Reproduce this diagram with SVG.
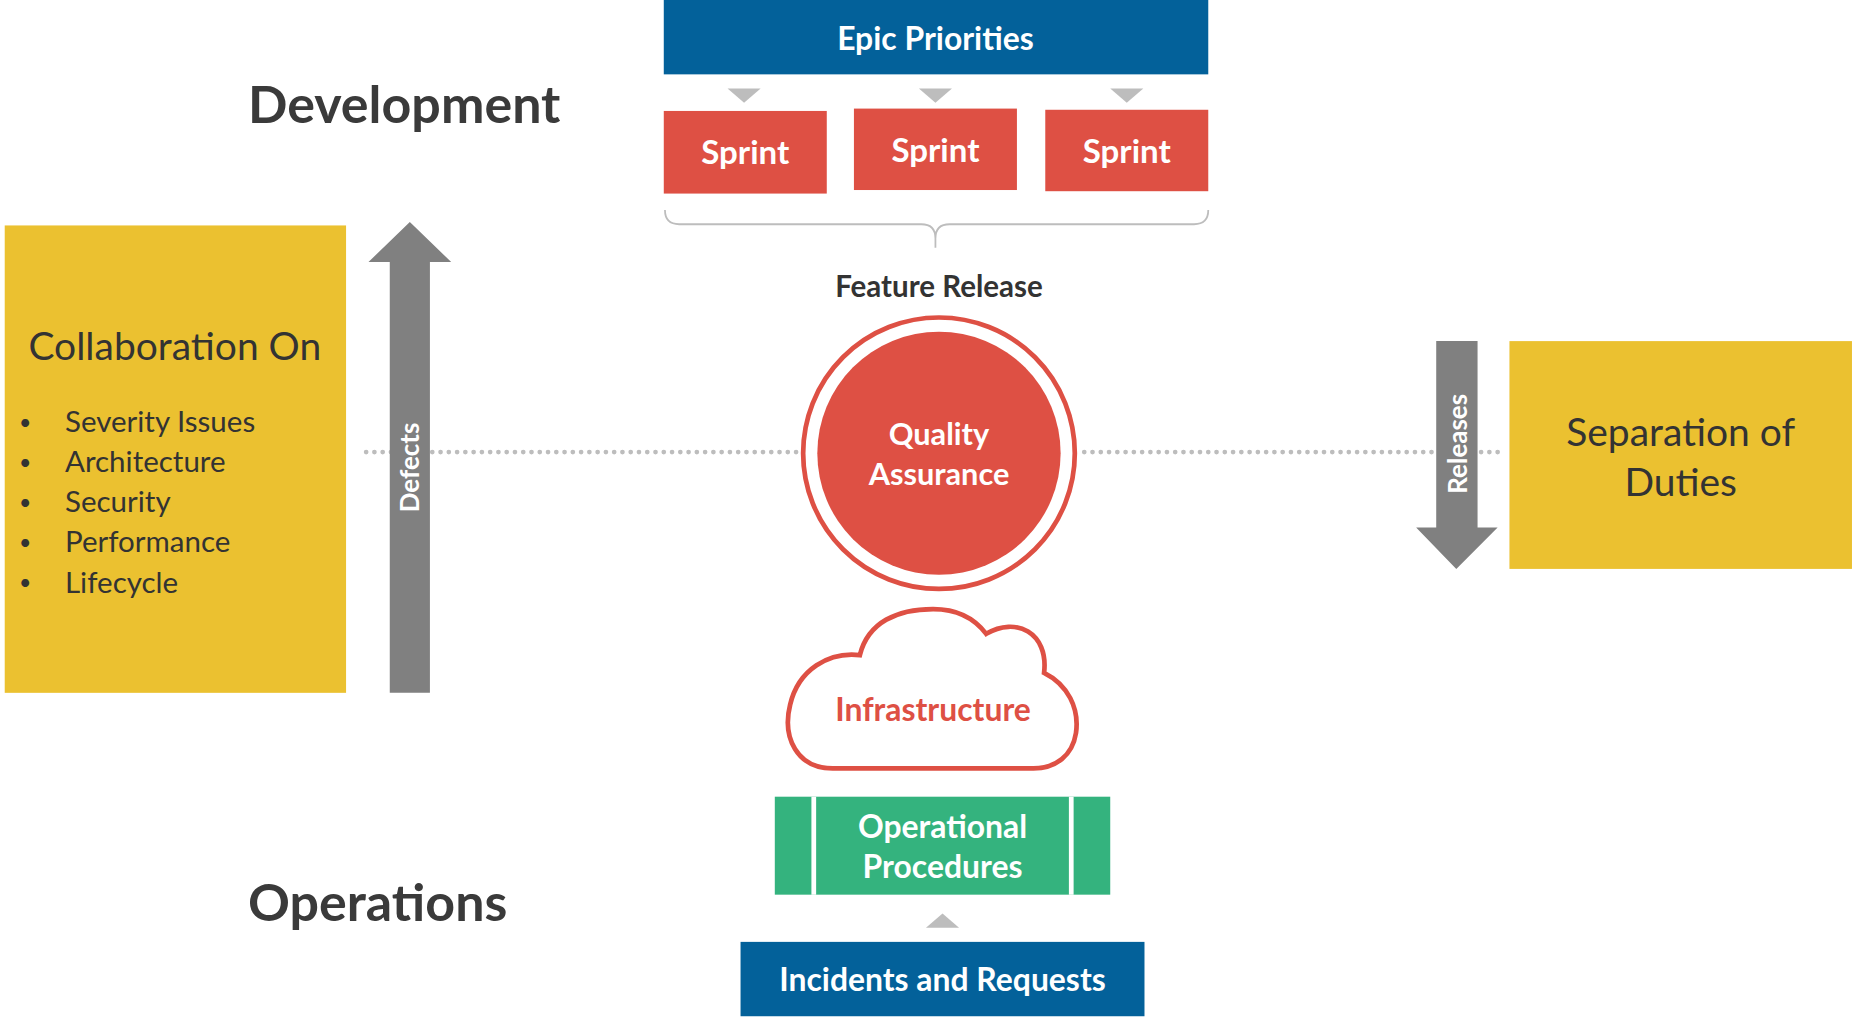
<svg xmlns="http://www.w3.org/2000/svg" width="1852" height="1021" viewBox="0 0 1852 1021">
<style>
text{font-family:Lato,"Open Sans","Liberation Sans",sans-serif}
.w{fill:#fff;font-weight:bold;text-anchor:middle}
.h{fill:#3a3a3a;font-weight:bold;font-size:44px}
.d{fill:#333;font-size:25px}
.b{fill:#333;font-size:18px}
.tri{fill:#bdbdbd}
.red{fill:#de5044}
.blue{fill:#03619a}
.yel{fill:#ebc130}
.gray{fill:#808080}
</style>
<rect width="1852" height="1021" fill="#fff"/>
<g transform="scale(1.1811,1.1803)">
<g id="labels">
<text class="h" x="210" y="104">Development</text>
<text class="h" x="210" y="780">Operations</text>
</g>
<g id="connectors">
<path d="M310 383H680M918 383H1270" stroke="#bdbdbd" stroke-width="4" stroke-dasharray="0 7" stroke-linecap="round" fill="none"/>
<polygon class="tri" points="616,75 644,75 630,87"/>
<polygon class="tri" points="778,75 806,75 792,87"/>
<polygon class="tri" points="940,75 968,75 954,87"/>
<polygon class="tri" points="784,786 812,786 798,774"/>
<path d="M563 178Q563 190 575 190H780Q792 190 792 202V210M1023 178Q1023 190 1011 190H804Q792 190 792 202" stroke="#bdbdbd" stroke-width="1.5" fill="none"/>
</g>
<g id="epic"><rect class="blue" x="562" y="0" width="461" height="63"/><text class="w" x="792" y="42" font-size="27">Epic Priorities</text></g>
<g id="sprint1"><rect class="red" x="562" y="94" width="138" height="70"/><text class="w" x="631" y="139" font-size="28">Sprint</text></g>
<g id="sprint2"><rect class="red" x="723" y="92" width="138" height="69"/><text class="w" x="792" y="137" font-size="28">Sprint</text></g>
<g id="sprint3"><rect class="red" x="885" y="93" width="138" height="69"/><text class="w" x="954" y="138" font-size="28">Sprint</text></g>
<g id="feature"><text x="795" y="252" font-size="25" font-weight="bold" fill="#333" text-anchor="middle">Feature Release</text></g>
<g id="qa">
<circle cx="795" cy="384" r="115" fill="#fff" stroke="#de5044" stroke-width="4"/>
<circle class="red" cx="795" cy="384" r="103"/>
<text class="w" x="795" y="377" font-size="26">Quality</text>
<text class="w" x="795" y="411" font-size="26">Assurance</text>
</g>
<g id="collab">
<rect class="yel" x="4" y="191" width="289" height="396"/>
<text x="148" y="305" font-size="33" fill="#333" text-anchor="middle">Collaboration On</text>
<g class="b">
<text x="16" y="364">•</text><text x="16" y="398">•</text><text x="16" y="432">•</text><text x="16" y="466">•</text><text x="16" y="500">•</text>
</g>
<g class="d">
<text x="55" y="366">Severity Issues</text>
<text x="55" y="400">Architecture</text>
<text x="55" y="434">Security</text>
<text x="55" y="468">Performance</text>
<text x="55" y="502">Lifecycle</text>
</g>
</g>
<g id="defects">
<polygon class="gray" points="330,587 330,222 312,222 347,188 382,222 364,222 364,587"/>
<text class="w" transform="translate(355,396) rotate(-90)" font-size="22">Defects</text>
</g>
<g id="releases">
<polygon class="gray" points="1216,289 1251,289 1251,447 1268,447 1233,482 1199,447 1216,447"/>
<text class="w" transform="translate(1242,376) rotate(-90)" font-size="22">Releases</text>
</g>
<g id="separation">
<rect class="yel" x="1278" y="289" width="290" height="193"/>
<text x="1423" y="378" font-size="33" fill="#333" text-anchor="middle">Separation of</text>
<text x="1423" y="420" font-size="33" fill="#333" text-anchor="middle">Duties</text>
</g>
<g id="infra">
<path d="M705 651C675 651 662 625 669 597C676 567 702 552 728 555C735 527 760 516 790 516C812 516 826 525 835 537C860 522 888 536 884 570C904 580 914 600 911 621C908 640 894 651 875 651Z" fill="#fff" stroke="#de5044" stroke-width="4"/>
<text x="790" y="611" font-size="27" font-weight="bold" fill="#de5044" text-anchor="middle">Infrastructure</text>
</g>
<g id="ops">
<rect x="656" y="675" width="284" height="83" fill="#34b37e"/>
<path d="M689 675V758M907 675V758" stroke="#fff" stroke-width="4"/>
<text class="w" x="798" y="710" font-size="27">Operational</text>
<text class="w" x="798" y="744" font-size="27">Procedures</text>
</g>
<g id="incidents"><rect class="blue" x="627" y="798" width="342" height="63"/><text class="w" x="798" y="840" font-size="27">Incidents and Requests</text></g>
</g>
</svg>
